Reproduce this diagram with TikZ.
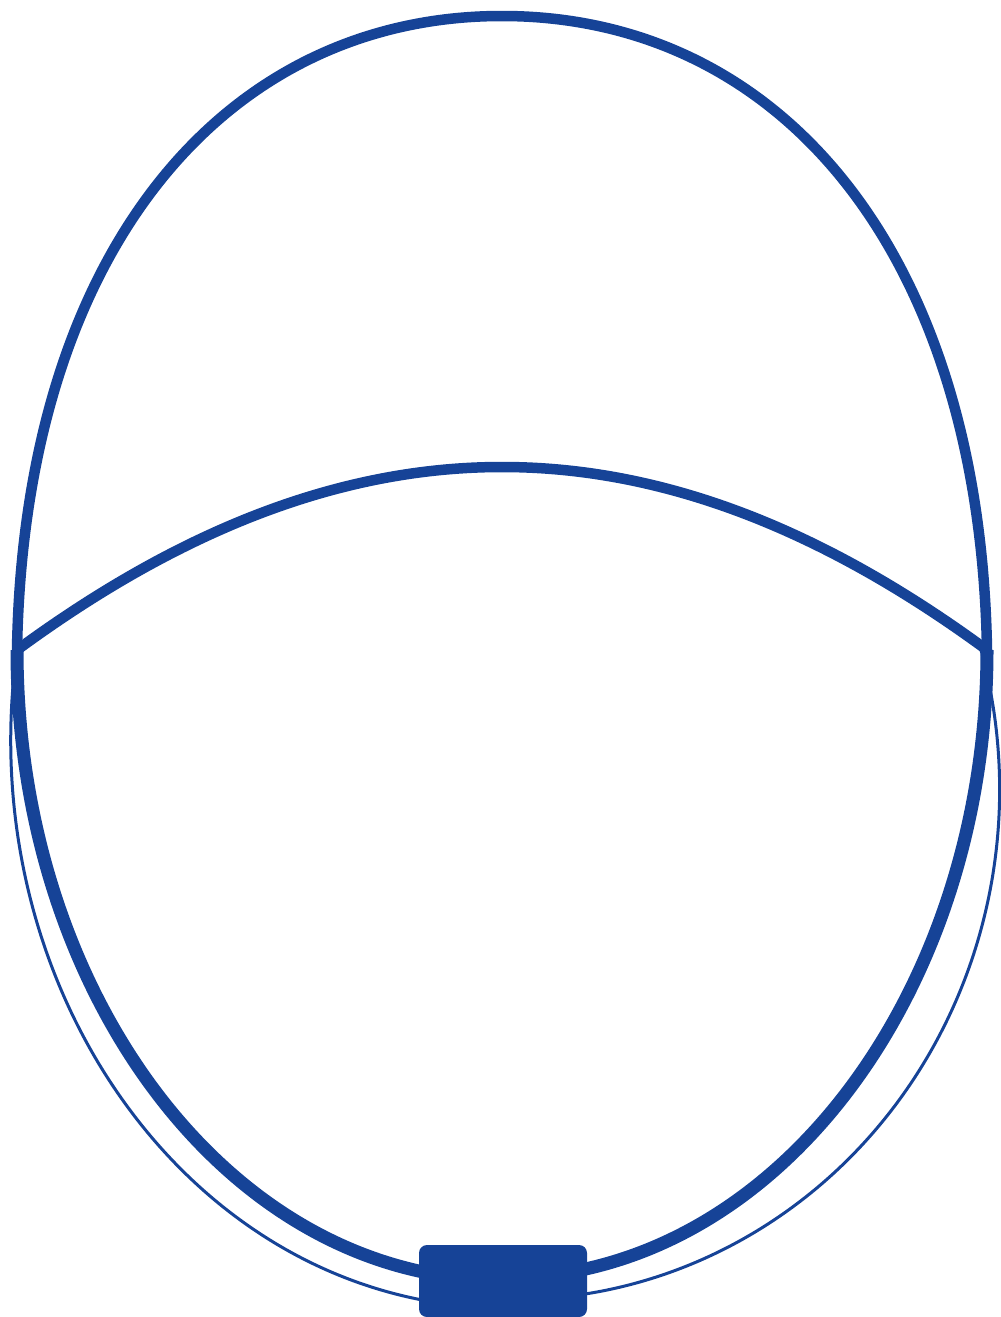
\documentclass[tikz,border=0pt]{standalone}
\definecolor{gb}{RGB}{22,67,151}
\begin{document}
\begin{tikzpicture}[x=1pt,y=-1pt,
  bigedge/.style={draw=gb,line width=10.5pt},
  thickedge/.style={draw=gb,line width=13pt},
  thinedge/.style={draw=gb,line width=3pt},
  boxst/.style={fill=gb,draw=none,rounded corners=8pt,minimum width=168pt,minimum height=72pt,inner sep=0pt}]
\useasboundingbox (0,0) rectangle (1001,1317);
\coordinate (L) at (17,650);
\coordinate (R) at (987,650);
\coordinate (T) at (502,16);
% top arc and middle arc
\draw[bigedge] (L) .. controls (24,250) and (225,16) .. (T) .. controls (779,16) and (980,250) .. (R);
\draw[bigedge] (L) .. controls (349,406) and (655,406) .. (R);
% left side edges (L -> box)
\draw[thickedge] (L) arc[start angle=180, end angle=99, x radius=483, y radius=630];
\draw[thinedge] (L) arc[start angle=189.1, end angle=99.2, x radius=493, y radius=568];
% right side edges (box -> R)
\draw[thickedge] (R) arc[start angle=0, end angle=81, x radius=483, y radius=628];
\draw[thinedge] ([xshift=-6pt]R) arc[start angle=-15.9, end angle=81.5, x radius=487, y radius=510];
% box
\node[boxst] (box) at (503,1281) {};
\end{tikzpicture}
\end{document}
